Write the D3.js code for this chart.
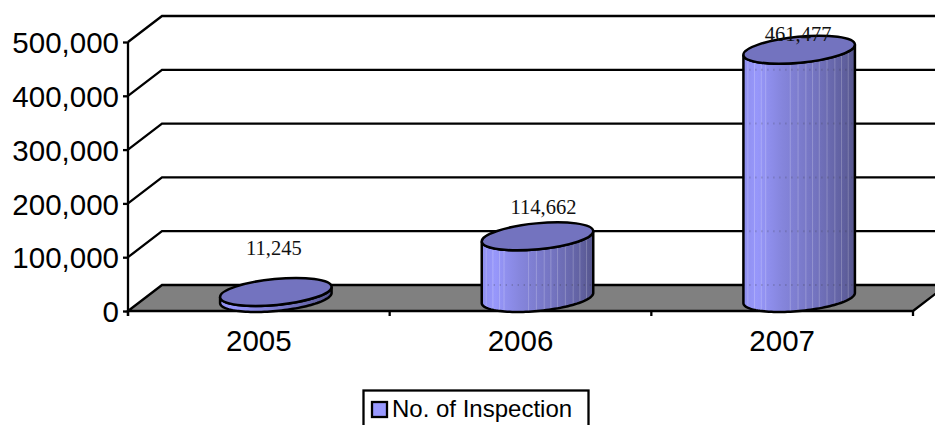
<!DOCTYPE html>
<html>
<head>
<meta charset="utf-8">
<script src="https://cdn.jsdelivr.net/npm/d3@7/dist/d3.min.js"></script>
<style>
html,body{margin:0;padding:0;background:#fff;overflow:hidden}
svg{display:block}
</style>
</head>
<body>
<div id="chart"></div>
<script>
const categories = ["2005", "2006", "2007"];
const values = [11245, 114662, 461477];
const valueLabels = ["11,245", "114,662", "461,477"];
const yTicks = [0, 100000, 200000, 300000, 400000, 500000];
const seriesName = "No. of Inspection";

const W = 935, H = 425;
const svg = d3.select("#chart").append("svg").attr("width", W).attr("height", H);
const defs = svg.append("defs");

const FRONT_L = 128, FRONT_R = 913, BASE = 311, TOP = 42;
const DX = 34, DY = 26;
const SANS = "'Liberation Sans', Arial, sans-serif";
const SERIF = "'Liberation Serif', 'Times New Roman', serif";

const y = d3.scaleLinear().domain([0, 500000]).range([BASE, TOP]);
const x = d3.scaleBand().domain(categories).range([FRONT_L, FRONT_R]);

// body gradient
const grad = defs.append("linearGradient").attr("id", "body").attr("x1", 0).attr("x2", 1).attr("y1", 0).attr("y2", 0);
[[0, "#8f8fee"], [0.12, "#9797fb"], [0.35, "#8585dc"], [0.65, "#7373bf"], [0.9, "#60609f"], [1, "#55558c"]]
  .forEach(s => grad.append("stop").attr("offset", s[0]).attr("stop-color", s[1]));

// back wall gridlines
yTicks.forEach(t => {
  if (t === 0) return;
  svg.append("path")
    .attr("d", `M${FRONT_L},${y(t)}L${FRONT_L + DX},${y(t) - DY}H${FRONT_R + DX}`)
    .attr("fill", "none").attr("stroke", "#000").attr("stroke-width", 2.3);
});

// floor
svg.append("path")
  .attr("d", `M${FRONT_L},${BASE}L${FRONT_L + DX},${BASE - DY}H${FRONT_R + DX}L${FRONT_R},${BASE}Z`)
  .attr("fill", "#808080").attr("stroke", "#000").attr("stroke-width", 2.3);

// axes
const yAxis = d3.axisLeft(y).tickValues(yTicks).tickFormat(d3.format(",")).tickSize(5).tickPadding(4);
const gy = svg.append("g").attr("transform", `translate(${FRONT_L},0)`).call(yAxis);
gy.selectAll("path,line").attr("stroke", "#000").attr("stroke-width", 2.3);
gy.select(".domain").attr("d", `M0,${TOP}V${BASE + 5}`);
gy.selectAll("text").attr("font-family", SANS).attr("font-size", 29.5).attr("fill", "#000").attr("dy", "0.36em");

const xAxis = d3.axisBottom(x).tickSize(0).tickPadding(19);
const gx = svg.append("g").attr("transform", `translate(0,${BASE})`).call(xAxis);
gx.select(".domain").remove();
gx.selectAll("text").attr("font-family", SANS).attr("font-size", 29.5).attr("fill", "#000");
// tick marks at category boundaries
const bounds = categories.map(c => x(c)).concat([x(categories[categories.length - 1]) + x.bandwidth()]);
gx.selectAll("line.b").data(bounds).enter().append("line").attr("class", "b")
  .attr("x1", d => d).attr("x2", d => d).attr("y1", 0).attr("y2", 5)
  .attr("stroke", "#000").attr("stroke-width", 2.3);

// cylinders: tilted ellipses sampled as smooth outlines
const RX = 56, RY = 13, ANG = -5.5;
const phi = ANG * Math.PI / 180;
const tLeft = Math.PI + Math.atan(-(RY / RX) * Math.tan(phi));
const ellipsePt = (cx, cy, t) => [
  cx + RX * Math.cos(t) * Math.cos(phi) - RY * Math.sin(t) * Math.sin(phi),
  cy + RX * Math.cos(t) * Math.sin(phi) + RY * Math.sin(t) * Math.cos(phi)
];
const STEPS = d3.range(0, 61).map(k => k / 60);
const line = d3.line();
const streaks = [0.04, 0.1, 0.16, 0.2, 0.42, 0.49, 0.56, 0.62, 0.68, 0.75, 0.82, 0.88, 0.94];
const labelRise = [37, 22, 9];
const labelShift = [-2, 6, -1];

categories.forEach((c, i) => {
  const cx = x(c) + x.bandwidth() / 2 + DX / 2;
  const by = y(0) - DY / 2;
  const ty = y(values[i]) - DY / 2;
  const g = svg.append("g");
  const clipId = "clip" + i;
  const lower = STEPS.map(s => ellipsePt(cx, by, tLeft - s * Math.PI));
  const upper = STEPS.map(s => ellipsePt(cx, ty, tLeft - Math.PI + s * Math.PI));
  const d = line(lower.concat(upper)) + "Z";
  const xL = lower[0][0], xR = lower[lower.length - 1][0];
  defs.append("clipPath").attr("id", clipId).append("path").attr("d", d);
  g.append("path").attr("d", d).attr("fill", "url(#body)");
  const st = g.append("g").attr("clip-path", `url(#${clipId})`);
  if (values[i] > 50000) {
    streaks.forEach(f => {
      st.append("line")
        .attr("x1", xL + f * (xR - xL)).attr("x2", xL + f * (xR - xL))
        .attr("y1", ty - RY - 4).attr("y2", by + RY + 4)
        .attr("stroke", "#fff").attr("stroke-opacity", 0.22).attr("stroke-width", 1);
    });
    // faint dashes where back gridlines show through
    yTicks.forEach(t => {
      const yy = y(t) - DY;
      if (yy > ty && yy < by + RY) {
        st.append("line").attr("x1", xL).attr("x2", xR)
          .attr("y1", yy).attr("y2", yy)
          .attr("stroke", "#333").attr("stroke-opacity", 0.3)
          .attr("stroke-dasharray", "1,5").attr("stroke-width", 2);
      }
    });
  }
  g.append("path").attr("d", d).attr("fill", "none").attr("stroke", "#000").attr("stroke-width", 2.5);
  g.append("ellipse").attr("rx", RX).attr("ry", RY)
    .attr("transform", `translate(${cx},${ty}) rotate(${ANG})`)
    .attr("fill", "#7373bf").attr("stroke", "#000").attr("stroke-width", 2.5);
  svg.append("text").attr("x", cx + labelShift[i]).attr("y", ty - labelRise[i])
    .attr("text-anchor", "middle").attr("font-family", SERIF).attr("font-size", 20.5)
    .attr("fill", "#111").text(valueLabels[i]);
});

// legend
const lg = svg.append("g");
lg.append("rect").attr("x", 363.5).attr("y", 390.5).attr("width", 225).attr("height", 50)
  .attr("fill", "#fff").attr("stroke", "#000").attr("stroke-width", 2.3);
lg.append("rect").attr("x", 372).attr("y", 402).attr("width", 15).attr("height", 15)
  .attr("fill", "#9999ff").attr("stroke", "#000").attr("stroke-width", 2.3);
lg.append("text").attr("x", 392).attr("y", 417).attr("font-family", SANS).attr("font-size", 24)
  .attr("fill", "#000").text(seriesName);
</script>
</body>
</html>
